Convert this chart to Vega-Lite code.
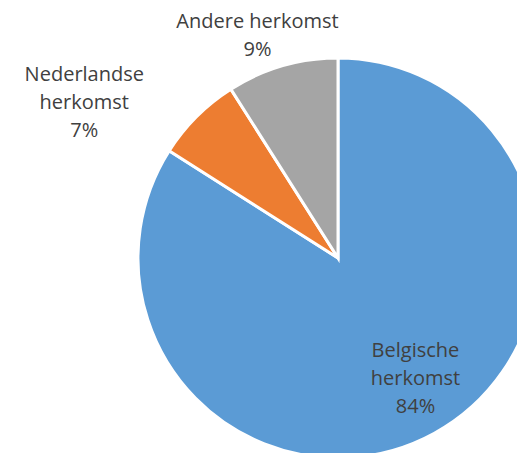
{
  "$schema": "https://vega.github.io/schema/vega-lite/v6.json",
  "width": 676,
  "height": 516,
  "padding": 0,
  "autosize": {"type": "none"},
  "background": "white",
  "view": {"stroke": null},
  "data": {
    "values": [
      {"key": "B", "label": "Belgische\nherkomst\n84%", "value": 84, "order": 1},
      {"key": "N", "label": "Nederlandse\nherkomst\n7%", "value": 7, "order": 2},
      {"key": "A", "label": "Andere herkomst\n9%", "value": 9, "order": 3}
    ]
  },
  "encoding": {
    "theta": {"field": "value", "type": "quantitative", "stack": true},
    "order": {"field": "order", "type": "quantitative"}
  },
  "layer": [
    {
      "mark": {"type": "arc", "outerRadius": 200, "stroke": "white", "strokeWidth": 3},
      "encoding": {
        "color": {
          "field": "key",
          "type": "nominal",
          "scale": {"domain": ["B", "N", "A"], "range": ["#5B9BD5", "#ED7D31", "#A5A5A5"]},
          "legend": null
        }
      }
    },
    {
      "mark": {"type": "text", "radius": 138, "dx": 11, "dy": -28, "font": "Open Sans", "fontSize": 20, "fill": "#404040", "lineBreak": "\n", "lineHeight": 28, "align": "center", "baseline": "middle"},
      "encoding": {
        "text": {"condition": {"test": "datum.key === 'B'", "field": "label"}, "value": ""}
      }
    },
    {
      "mark": {"type": "text", "radius": 231, "dx": -16, "dy": -14, "font": "Open Sans", "fontSize": 20, "fill": "#404040", "lineBreak": "\n", "lineHeight": 28, "align": "center", "baseline": "middle"},
      "encoding": {
        "text": {"condition": {"test": "datum.key === 'A'", "field": "label"}, "value": ""}
      }
    },
    {
      "mark": {"type": "text", "radius": 240, "dx": -84, "dy": -13, "font": "Open Sans", "fontSize": 20, "fill": "#404040", "lineBreak": "\n", "lineHeight": 28, "align": "center", "baseline": "middle"},
      "encoding": {
        "text": {"condition": {"test": "datum.key === 'N'", "field": "label"}, "value": ""}
      }
    }
  ]
}
